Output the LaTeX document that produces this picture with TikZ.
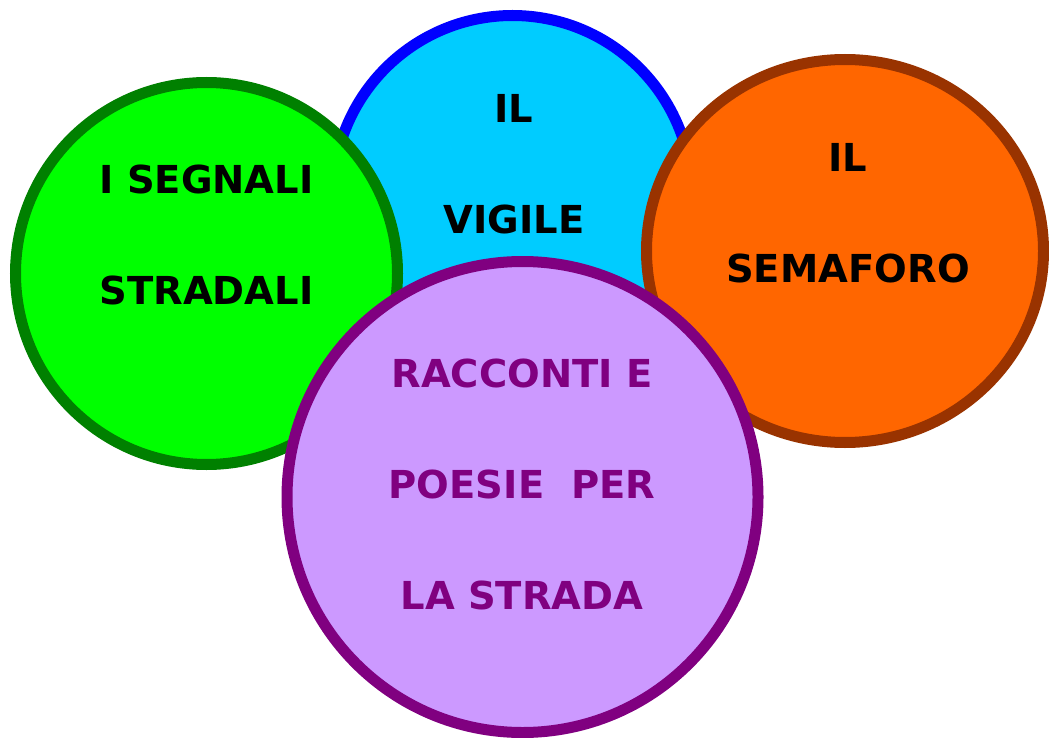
\documentclass[tikz,border=0pt]{standalone}
\usepackage{fontspec}
\setmainfont{DejaVu Sans}
\usetikzlibrary{shapes.geometric}
\definecolor{verde}{HTML}{00FF00}
\definecolor{verdescuro}{HTML}{008000}
\definecolor{azzurro}{HTML}{00CCFF}
\definecolor{blu}{HTML}{0000FF}
\definecolor{arancio}{HTML}{FF6600}
\definecolor{marrone}{HTML}{993300}
\definecolor{lilla}{HTML}{CC99FF}
\definecolor{viola}{HTML}{800080}
\tikzset{
  disco/.style={circle, draw, line width=11pt, inner sep=0pt},
  scritta/.style={align=center, inner sep=0pt, font=\bfseries\fontsize{38.5}{111}\selectfont}
}
\begin{document}
\begin{tikzpicture}[x=1pt, y=-1pt]
  \useasboundingbox (0,0) rectangle (1049,738);
  \node[disco, fill=azzurro, draw=blu, minimum size=359pt] (vigile) at (512.5,195) {};
  \node[disco, fill=verde, draw=verdescuro, minimum size=382pt] (segnali) at (206.5,273.5) {};
  \node[disco, ellipse, fill=arancio, draw=marrone, minimum width=397pt, minimum height=383pt] (semaforo) at (845,251) {};
  \node[disco, fill=lilla, draw=viola, minimum size=471pt] (racconti) at (522.5,497) {};
  \node[scritta] (vigiletxt) at (514,164.5) {IL\\VIGILE};
  \node[scritta] (segnalitxt) at (206.5,234.5) {I SEGNALI\\STRADALI};
  \node[scritta] (semaforotxt) at (848,213.5) {IL\\SEMAFORO};
  \node[scritta, text=viola] (raccontitxt) at (522,484) {RACCONTI E\\POESIE\ \ PER\\LA STRADA};
\end{tikzpicture}
\end{document}
